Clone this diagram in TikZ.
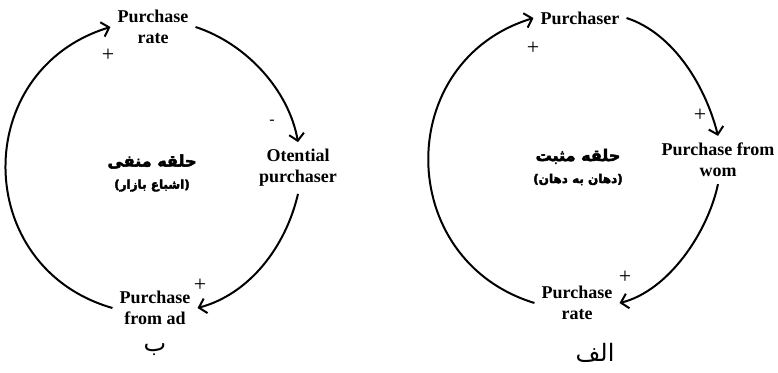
\documentclass[tikz,border=0pt]{standalone}
\usepackage{fontspec}
\setmainfont{Liberation Serif}
\newfontfamily\farsi[Script=Arabic]{DejaVu Sans}
\newfontfamily\farsibold[Script=Arabic,BoldFeatures={FakeBold=3}]{DejaVu Sans}
\TeXXeTstate=1
\usetikzlibrary{arrows.meta}
\begin{document}
\begin{tikzpicture}[x=1pt,y=1pt,
  var/.style={font=\fontsize{18}{21}\selectfont\bfseries,align=center,inner sep=7pt},
  link/.style={line width=2pt,-{Straight Barb[length=7pt,width=15pt]}},
  sgn/.style={font=\fontsize{22}{22}\selectfont},
  loopname/.style={font=\farsibold\bfseries\fontsize{16}{22}\selectfont,align=center},
  caption/.style={font=\farsi\fontsize{24}{28}\selectfont}]
  \useasboundingbox (0,0) rectangle (778,-372);
  % negative loop (left)
  \node[var] (rate) at (153,-27) {Purchase\\rate};
  \node[var] (otential) at (298,-168) {Otential\\purchaser};
  \node[var] (ad) at (155,-308) {Purchase\\from ad};
  \node[loopname] (neg) at (152,-173)
    {\beginR حلقه منفی\endR\\{\fontsize{12}{14}\selectfont\beginR(اشباع بازار)\endR}};
  \draw[link] (rate.east) to[out=-18,in=100,distance=53pt] (otential.north);
  \draw[link] (otential.south) to[out=-103,in=15,distance=54pt] (ad.east);
  \draw[link] (ad.west) to[out=164,in=197,distance=147pt] (rate.west);
  \node[sgn] (s1) at (108,-55) {+};
  \node[font=\fontsize{16}{16}\selectfont] (s2) at (272,-122) {-};
  \node[sgn] (s3) at (200,-285) {+};
  \node[caption] (capb) at (155,-350) {\beginR ب\endR};
  % positive loop (right)
  \node[var] (purchaser) at (580,-18) {Purchaser};
  \node[var] (wom) at (718,-160) {Purchase from\\wom};
  \node[var] (prate) at (577,-303) {Purchase\\rate};
  \node[loopname] (pos) at (578,-167)
    {\beginR حلقه مثبت\endR\\{\fontsize{12}{14}\selectfont\beginR(دهان به دهان)\endR}};
  \draw[link] (purchaser.east) to[out=-18,in=104,distance=50pt] (wom.north);
  \draw[link] (wom.south) to[out=-102,in=14,distance=50pt] (prate.east);
  \draw[link] (prate.west) to[out=163,in=197,distance=147pt] (purchaser.west);
  \node[sgn] (s4) at (533,-48) {+};
  \node[sgn] (s5) at (700,-115) {+};
  \node[sgn] (s6) at (625,-277) {+};
  \node[caption] (capa) at (595,-353) {\beginR الف\endR};
\end{tikzpicture}
\end{document}
